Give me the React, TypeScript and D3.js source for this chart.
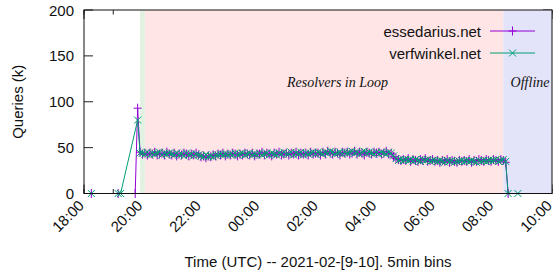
import React from 'react';
import * as d3 from 'd3';

// ---------- data ----------
const binMinutes = 5;
const bandStart = '19:55';

const essPreTimes = ['18:15', '19:10', '19:45', '19:50'];
const essPreValues = [0, 0, 0, 93];
const essBand = [
  45, 43, 44, 42, 44, 43, 45, 42, 43, 44, 42, 45, 43,
  42, 44, 41, 43, 42, 44, 43, 41, 43, 42, 44, 42,
  40, 41, 39, 41, 40, 42, 41, 43, 42, 44, 41, 43,
  42, 44, 43, 41, 43, 42, 44, 43, 42, 44, 41, 43,
  43, 45, 42, 44, 43, 41, 44, 43, 45, 42, 43, 44,
  42, 44, 43, 45, 42, 44, 43, 44, 42, 45, 43, 44,
  44, 42, 45, 43, 46, 44, 43, 45, 44, 42, 45, 44,
  45, 43, 44, 46, 43, 45, 44, 42, 45, 44, 43, 45,
  44, 45, 43, 44, 46, 43, 44, 40, 38, 37, 36, 37,
  36, 38, 35, 37, 36, 35, 37, 36, 38, 35, 36, 37,
  35, 36, 34, 36, 35, 37, 34, 36, 35, 34, 36, 35,
  36, 35, 37, 34, 36, 35, 37, 36, 35, 37, 36, 35,
  37, 36, 35, 37, 36, 34,
];
const essPostTimes = ['08:30'];
const essPostValues = [0];

const verPreTimes = ['18:15', '19:10', '19:15', '19:50'];
const verPreValues = [0, 0, 0, 80];
const verBand = [
  44, 44, 43, 45, 42, 44, 43, 44, 45, 42, 44, 43, 44,
  43, 42, 44, 42, 43, 41, 44, 42, 43, 41, 43, 42,
  41, 40, 42, 40, 41, 40, 42, 42, 43, 42, 43, 42,
  43, 42, 44, 42, 43, 44, 42, 43, 44, 42, 43, 42,
  44, 42, 43, 44, 42, 44, 43, 42, 44, 43, 45, 43,
  43, 45, 42, 44, 43, 45, 42, 44, 43, 44, 45, 43,
  45, 44, 43, 45, 44, 46, 45, 43, 44, 45, 43, 45,
  44, 45, 46, 44, 45, 43, 45, 46, 44, 45, 44, 43,
  45, 43, 45, 44, 43, 45, 44, 41, 38, 36, 37, 36,
  37, 36, 37, 35, 37, 36, 35, 37, 36, 37, 35, 36,
  36, 35, 36, 35, 34, 36, 35, 36, 34, 35, 35, 36,
  35, 36, 35, 36, 35, 34, 36, 35, 36, 35, 36, 36,
  36, 37, 35, 36, 37, 35,
];
const verPostTimes = ['08:30', '08:50'];
const verPostValues = [0, 0];

const periodNames = ['', 'Resolvers in Loop', 'Offline'];
const periodStarts = ['19:55', '20:05', '08:20'];
const periodEnds = ['20:05', '08:20', '10:00'];
const periodColors = ['#e2f2e2', '#ffe5e5', '#e3e3f9'];
const periodLabelAt = ['', '02:40', '09:15'];

const seriesNames = ['essedarius.net', 'verfwinkel.net'];
const seriesColors = ['#9400d3', '#009e73'];
const yTicks = [0, 50, 100, 150, 200];

// ---------- helpers ----------
const t = (s: string) => {
  const [h, m] = s.split(':').map(Number);
  const day = h >= 12 ? 9 : 10;
  return new Date(Date.UTC(2021, 1, day, h, m));
};

const buildSeries = (preT: string[], preV: number[], band: number[], postT: string[], postV: number[]) => {
  const start = t(bandStart).getTime();
  return [
    ...preT.map((s, i) => ({ d: t(s), v: preV[i] })),
    ...band.map((v, i) => ({ d: new Date(start + i * binMinutes * 60000), v })),
    ...postT.map((s, i) => ({ d: t(s), v: postV[i] })),
  ];
};

const series = [
  buildSeries(essPreTimes, essPreValues, essBand, essPostTimes, essPostValues),
  buildSeries(verPreTimes, verPreValues, verBand, verPostTimes, verPostValues),
];

export default function App() {
  const W = 556, H = 276;
  const L = 84, R = 552, T = 10, B = 193.5;
  const x = d3.scaleUtc().domain([t('18:00'), t('10:00')]).range([L, R]);
  const y = d3.scaleLinear().domain([0, 200]).range([B, T]);
  const majorX = d3.utcHour.every(2)!.range(t('18:00'), new Date(t('10:00').getTime() + 1));
  const minorX = d3.utcHour.every(1)!.range(t('18:00'), new Date(t('10:00').getTime() + 1));
  const fmt = d3.utcFormat('%H:%M');
  const line = d3.line<{ d: Date; v: number }>().x((p) => x(p.d)).y((p) => y(p.v));
  const font = 'Liberation Sans, Arial, sans-serif';
  const serif = 'Liberation Serif, Times New Roman, serif';
  const tickC = '#222';

  const marker = (k: number, cx: number, cy: number, key: any) =>
    k === 0 ? (
      <path key={key} d={`M${cx - 4},${cy}H${cx + 4}M${cx},${cy - 4.5}V${cy + 4.5}`} stroke={seriesColors[k]} strokeWidth={1} fill="none" />
    ) : (
      <path key={key} d={`M${cx - 3.5},${cy - 3.5}L${cx + 3.5},${cy + 3.5}M${cx - 3.5},${cy + 3.5}L${cx + 3.5},${cy - 3.5}`} stroke={seriesColors[k]} strokeWidth={1} fill="none" />
    );

  return (
    <svg width={W} height={H} style={{ position: 'absolute', left: 0, top: 0, background: '#fff' }}>
      <rect x={0} y={0} width={W} height={H} fill="#fff" />
      {/* ticks (drawn below shading) */}
      {yTicks.map((v) => (
        <g key={'yt' + v}>
          <line x1={L} x2={L + 9} y1={y(v)} y2={y(v)} stroke={tickC} />
          <line x1={R} x2={R - 9} y1={y(v)} y2={y(v)} stroke={tickC} />
        </g>
      ))}
      {minorX.map((d, i) => (
        <g key={'mx' + i}>
          <line x1={x(d)} x2={x(d)} y1={B} y2={B - 4.5} stroke={tickC} />
          <line x1={x(d)} x2={x(d)} y1={T} y2={T + 4.5} stroke={tickC} />
        </g>
      ))}
      {majorX.map((d, i) => (
        <g key={'Mx' + i}>
          <line x1={x(d)} x2={x(d)} y1={B} y2={B - 9} stroke={tickC} />
          <line x1={x(d)} x2={x(d)} y1={T} y2={T + 9} stroke={tickC} />
        </g>
      ))}
      {/* shaded periods */}
      {periodStarts.map((s, i) => (
        <rect key={'p' + i} x={x(t(s))} y={T} width={x(t(periodEnds[i])) - x(t(s))} height={B - T} fill={periodColors[i]} />
      ))}
      {/* data */}
      {series.map((ser, k) => (
        <g key={'s' + k}>
          <path d={line(ser)!} fill="none" stroke={seriesColors[k]} strokeWidth={1} />
          {ser.map((p, i) => marker(k, x(p.d), y(p.v), i))}
        </g>
      ))}
      {/* border */}
      <rect x={L} y={T} width={R - L} height={B - T} fill="none" stroke="#111" strokeWidth={1} />
      {/* period labels */}
      {periodNames.map((n, i) =>
        n ? (
          <text key={'pl' + i} x={x(t(periodLabelAt[i]))} y={87} textAnchor="middle" fontFamily={serif} fontStyle="italic" fontSize={14} fill="#111">
            {n}
          </text>
        ) : null
      )}
      {/* y tick labels */}
      {yTicks.map((v) => (
        <text key={'yl' + v} x={74} y={y(v) + 5.5} textAnchor="end" fontFamily={font} fontSize={15} fill="#111">
          {v}
        </text>
      ))}
      {/* x tick labels */}
      {majorX.map((d, i) => (
        <text key={'xl' + i} transform={`translate(${x(d) + 1},${B + 13}) rotate(-45)`} textAnchor="end" fontFamily={font} fontSize={15} fill="#111">
          {fmt(d)}
        </text>
      ))}
      {/* axis titles */}
      <text transform={`translate(23,${(T + B) / 2}) rotate(-90)`} textAnchor="middle" fontFamily={font} fontSize={15} fill="#111">
        Queries (k)
      </text>
      <text x={(L + R) / 2} y={267} textAnchor="middle" fontFamily={font} fontSize={15} fill="#111">
        Time (UTC) -- 2021-02-[9-10]. 5min bins
      </text>
      {/* legend */}
      {seriesNames.map((n, k) => {
        const ly = 31 + k * 22;
        return (
          <g key={'lg' + k}>
            <text x={481} y={ly + 5.5} textAnchor="end" fontFamily={font} fontSize={15} fill="#111">
              {n}
            </text>
            <line x1={490} x2={535} y1={ly} y2={ly} stroke={seriesColors[k]} strokeWidth={1} />
            {marker(k, 512.5, ly, 'm')}
          </g>
        );
      })}
    </svg>
  );
}
